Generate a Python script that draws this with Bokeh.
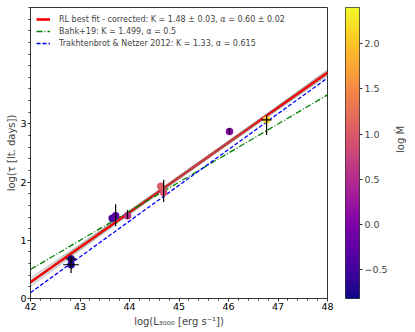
import math
import numpy as np
from bokeh.plotting import figure
from bokeh.models import (Range1d, FixedTicker, LinearColorMapper, ColumnDataSource,
                          Legend, LegendItem, CustomJSTickFormatter)
from bokeh.layouts import row
from bokeh.palettes import Plasma256
from bokeh.transform import linear_cmap
from bokeh.embed import file_html
from bokeh.resources import INLINE

# ---------------- data ----------------
log_L = [42.82, 42.82, 43.65, 43.72, 43.96, 44.63, 44.69, 46.02, 46.77]
log_tau = [0.68, 0.58, 1.38, 1.42, 1.42, 1.93, 1.82, 2.87, 3.07]
log_mdot = [-0.65, -0.70, -0.45, -0.25, 0.55, 1.05, 0.95, 0.05, 2.05]
x_err = [0.10, 0.16, 0.0, 0.0, 0.0, 0.0, 0.0, 0.0, 0.10]
y_err_lo = [0.05, 0.14, 0.0, 0.18, 0.05, 0.0, 0.16, 0.04, 0.26]
y_err_hi = [0.06, 0.08, 0.0, 0.20, 0.10, 0.0, 0.22, 0.06, 0.08]

fit_K, fit_K_err = 1.48, 0.03
fit_alpha, fit_alpha_err = 0.60, 0.02
bahk_K, bahk_alpha = 1.499, 0.5
tn_K, tn_alpha = 1.33, 0.615
L_pivot = 44.0

x_ticks = [42, 43, 44, 45, 46, 47, 48]
y_ticks = [0, 1, 2, 3]
cbar_ticks = [-0.5, 0.0, 0.5, 1.0, 1.5, 2.0]
mdot_low, mdot_high = -0.82, 2.40

labels = [
    "RL best fit - corrected: K = 1.48 \u00b1 0.03, \u03b1 = 0.60 \u00b1 0.02",
    "Bahk+19: K = 1.499, \u03b1 = 0.5",
    "Trakhtenbrot & Netzer 2012: K = 1.33, \u03b1 = 0.615",
]

FONT = "DejaVu Sans"
H = 330
BOTTOM = 32
TOP = 7

# ---------------- main figure ----------------
p = figure(width=338, height=H, output_backend="svg", toolbar_location=None,
           x_range=Range1d(42, 48), y_range=Range1d(0, 5),
           min_border_left=30, min_border_right=11, min_border_top=TOP,
           min_border_bottom=BOTTOM)
p.grid.visible = False
p.outline_line_color = "#333333"
p.outline_line_width = 1
p.background_fill_color = "white"
p.border_fill_color = "white"

xl = np.array([42.0, 48.0])

def model(K, a):
    return K + a * (xl - L_pivot)

r_fit = p.line(xl, model(fit_K, fit_alpha), line_color="#ff0000", line_width=2.6)
for dK, da in [(fit_K_err, -fit_alpha_err), (-fit_K_err, fit_alpha_err),
               (fit_K_err, 0.0), (-fit_K_err, 0.0)]:
    p.line(xl, model(fit_K + dK, fit_alpha + da), line_color="#7f7f7f",
           line_width=1, line_alpha=0.6)
r_bahk = p.line(xl, model(bahk_K, bahk_alpha), line_color="#008000",
                line_width=1.3, line_dash="6 2 1 2")
r_tn = p.line(xl, model(tn_K, tn_alpha), line_color="#0000ff",
              line_width=1.3, line_dash="4 2")

src = ColumnDataSource(dict(
    x=log_L, y=log_tau, m=log_mdot,
    x0=[a - b for a, b in zip(log_L, x_err)],
    x1=[a + b for a, b in zip(log_L, x_err)],
    y0=[a - b for a, b in zip(log_tau, y_err_lo)],
    y1=[a + b for a, b in zip(log_tau, y_err_hi)],
))
p.scatter("x", "y", source=src, size=7.5, line_color=None,
          fill_color=linear_cmap("m", Plasma256, mdot_low, mdot_high))
p.segment(x0="x0", y0="y", x1="x1", y1="y", source=src, line_color="black", line_width=1.2)
p.segment(x0="x", y0="y0", x1="x", y1="y1", source=src, line_color="black", line_width=1.2)

minor_x = [round(42 + 0.2 * i, 2) for i in range(31)]
minor_y = [round(0.2 * i, 2) for i in range(26)]
p.xaxis.ticker = FixedTicker(ticks=x_ticks, minor_ticks=minor_x)
p.yaxis.ticker = FixedTicker(ticks=y_ticks, minor_ticks=minor_y)
p.xaxis.axis_label = "log(L\u2083\u2080\u2080\u2080 [erg s\u207b\u00b9])"
p.yaxis.axis_label = "log(\u03c4 [lt. days])"
for ax in (p.xaxis, p.yaxis):
    ax.axis_label_text_font = FONT
    ax.axis_label_text_font_style = "normal"
    ax.axis_label_text_font_size = "10px"
    ax.major_label_text_font = FONT
    ax.major_label_text_font_size = "9.5px"
    ax.major_label_text_color = "black"
    ax.axis_line_color = None
    ax.major_tick_line_color = "#333333"
    ax.minor_tick_line_color = "#333333"
    ax.major_tick_out = 3
    ax.major_tick_in = 0
    ax.minor_tick_out = 2
    ax.minor_tick_in = 0
    ax.major_label_standoff = 1
p.xaxis.axis_label_standoff = 3
p.yaxis.axis_label_standoff = 0

legend = Legend(items=[LegendItem(label=labels[0], renderers=[r_fit]),
                       LegendItem(label=labels[1], renderers=[r_bahk]),
                       LegendItem(label=labels[2], renderers=[r_tn])],
                location="top_left")
legend.label_text_font = FONT
legend.label_text_font_size = "8px"
legend.glyph_width = 14
legend.glyph_height = 12
legend.label_height = 12
legend.label_standoff = 9
legend.spacing = 0
legend.padding = 2
legend.margin = 4
legend.border_line_alpha = 0
legend.background_fill_alpha = 0.8
p.add_layout(legend)

# ---------------- color bar figure ----------------
cb = figure(width=76, height=H, output_backend="svg", toolbar_location=None,
            x_range=Range1d(0, 1), y_range=Range1d(mdot_low, mdot_high),
            y_axis_location="right",
            min_border_left=7, min_border_right=55, min_border_top=TOP,
            min_border_bottom=BOTTOM)
cb.grid.visible = False
cb.xaxis.visible = False
cb.outline_line_color = "#333333"
cb.border_fill_color = "white"
mapper = LinearColorMapper(palette=Plasma256, low=mdot_low, high=mdot_high)
grad = np.linspace(mdot_low, mdot_high, 512).reshape(-1, 1)
cb.image(image=[grad], x=0, y=mdot_low, dw=1, dh=mdot_high - mdot_low, color_mapper=mapper)
ya = cb.yaxis[0]
ya.ticker = FixedTicker(ticks=cbar_ticks, minor_ticks=[])
ya.formatter = CustomJSTickFormatter(code="return tick.toFixed(1).replace('-', '\u2212');")
ya.axis_label = "log \u1e40"
ya.axis_label_text_font = FONT
ya.axis_label_text_font_style = "normal"
ya.axis_label_text_font_size = "10px"
ya.major_label_text_font = FONT
ya.major_label_text_font_size = "9.5px"
ya.axis_line_color = None
ya.major_tick_line_color = "#333333"
ya.major_tick_out = 3
ya.major_tick_in = 0
ya.major_label_standoff = 2
ya.axis_label_standoff = 10
try:
    ya.axis_label_orientation = math.pi / 2
except Exception:
    pass

layout = row(p, cb)
open("out.html", "w").write(file_html(layout, INLINE))
